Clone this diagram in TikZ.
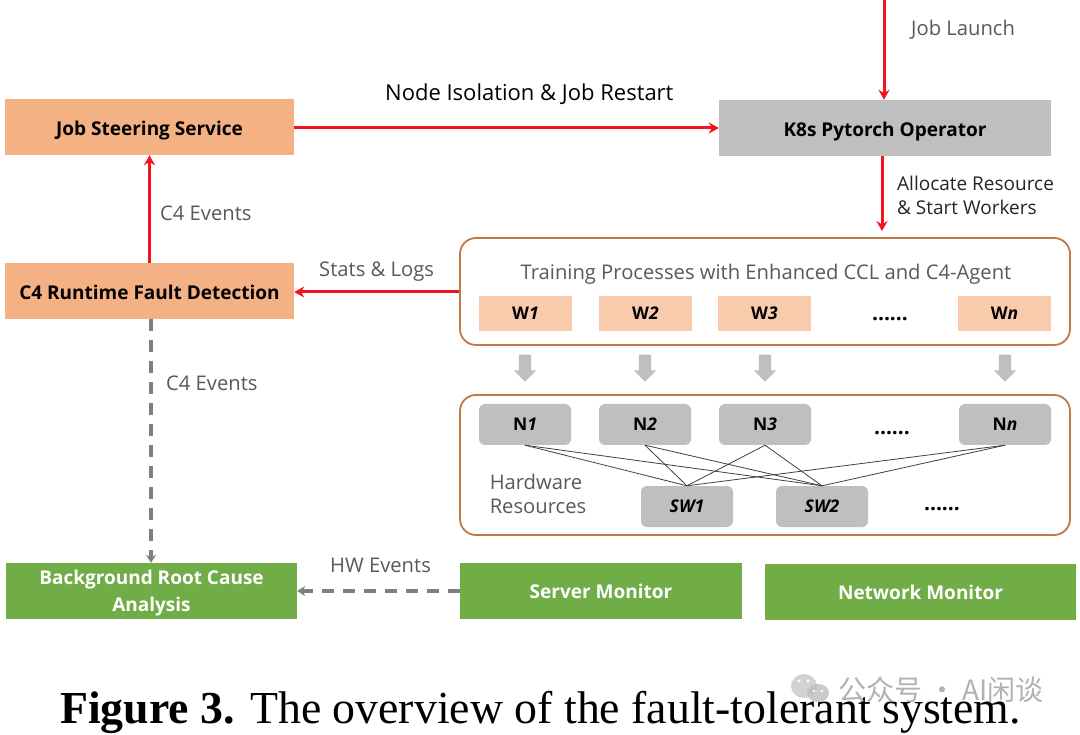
\documentclass[tikz,border=0pt]{standalone}
\usepackage{fontspec}
\setmainfont{Open Sans}
\newfontfamily\capfont{Liberation Serif}
\newfontfamily\cjkfont{Noto Sans CJK SC}
\usetikzlibrary{arrows.meta,shapes.arrows}
\definecolor{orangebox}{HTML}{F4B183}
\definecolor{lightorange}{HTML}{F8CBAD}
\definecolor{graybox}{HTML}{BFBFBF}
\definecolor{greenbox}{HTML}{70AD47}
\definecolor{frameline}{HTML}{C0794A}
\definecolor{redline}{HTML}{F5141E}
\definecolor{dashgray}{HTML}{7F7F7F}
\definecolor{labelgray}{HTML}{595959}
\newcommand{\fs}[1]{\fontsize{#1}{24}\selectfont}
\tikzset{
  x=1pt,y=-1pt,
  box/.style={minimum height=56,inner sep=0,align=center,font=\fs{19}\bfseries},
  oneline/.style={text height=14pt,text depth=0pt},
  lowline/.style={text height=17pt,text depth=0pt},
  orangenode/.style={box,lowline,fill=orangebox,text=black},
  graynode/.style={box,lowline,fill=graybox,text=black},
  greennode/.style={box,fill=greenbox,text=white,minimum height=56},
  frame/.style={draw=frameline,line width=1.8,rounded corners=16,fill=white},
  worker/.style={fill=lightorange,minimum width=93,minimum height=35,inner sep=0,font=\fs{17.5}\bfseries},
  machine/.style={fill=graybox,rounded corners=6,minimum width=92,minimum height=41,inner sep=0,font=\fs{17.5}\bfseries},
  redarrow/.style={draw=redline,line width=3,-{Stealth[length=10,width=11]}},
  grayarrow/.style={draw=dashgray,line width=3.2,dash pattern=on 12 off 9,-{Stealth[length=8,width=10]}},
  label/.style={text=labelgray,font=\fs{20.2},align=left,inner sep=0},
  blackl/.style={text=black,font=\fs{22},align=left,inner sep=0},
  dots/.style={font=\fs{21}\bfseries,inner sep=0},
  blockarrow/.style={single arrow,fill=graybox,rotate=-90,minimum height=27,minimum width=22,single arrow head extend=5,single arrow head indent=0,inner sep=0,outer sep=0},
  link/.style={draw=black!75,line width=0.8},
}
\begin{document}
\begin{tikzpicture}
\useasboundingbox (0,0) rectangle (1080,735);
\fill[white] (0,0) rectangle (1080,735);
% frames
\node[frame,minimum width=610,minimum height=107,inner sep=0] (train) at (765,291.5) {};
\node[frame,minimum width=610,minimum height=140,inner sep=0] (hw) at (765,465) {};
% main boxes
\node[orangenode,minimum width=289] (steer) at (149.5,127) {Job Steering Service};
\node[graynode,minimum width=332] (k8s) at (885,128) {K8s Pytorch Operator};
\node[orangenode,minimum width=289] (detect) at (149.5,291) {C4 Runtime Fault Detection};
\node[greennode,minimum width=291] (root) at (151.5,591) {\rule{0pt}{18pt}Background Root Cause\\[3pt]Analysis};
\node[greennode,oneline,minimum width=282] (server) at (601,591) {Server Monitor};
\node[greennode,oneline,minimum width=311] (network) at (920.5,592) {Network Monitor};
% workers
\node[label] (traintitle) at (766,274) {Training Processes with Enhanced CCL and C4-Agent};
\node[worker] (w1) at (525.5,313.5) {W\textit{1}};
\node[worker] (w2) at (645.5,313.5) {W\textit{2}};
\node[worker] (w3) at (764.5,313.5) {W\textit{3}};
\node[dots] (wd) at (890,319) {......};
\node[worker] (wn) at (1004.5,313.5) {W\textit{n}};
% block arrows
\node[blockarrow] (a1) at (525,365) {\rule{0pt}{12pt}};
\node[blockarrow] (a2) at (645,365) {\rule{0pt}{12pt}};
\node[blockarrow] (a3) at (765,365) {\rule{0pt}{12pt}};
\node[blockarrow] (a4) at (1005,365) {\rule{0pt}{12pt}};
% machines
\node[machine] (n1) at (525,424.5) {N\textit{1}};
\node[machine] (n2) at (645,424.5) {N\textit{2}};
\node[machine] (n3) at (765,424.5) {N\textit{3}};
\node[dots] (nd) at (892,433) {......};
\node[machine] (nn) at (1005,424.5) {N\textit{n}};
\node[machine] (sw1) at (687,506.5) {\textit{SW1}};
\node[machine] (sw2) at (822,506.5) {\textit{SW2}};
\node[dots] (sd) at (942,509) {......};
\node[label] (hwl) at (538,494) {Hardware\\Resources};
% links
\foreach \n in {n1,n2,n3,nn}{
  \draw[link] (\n.south) -- (sw1.north);
  \draw[link] (\n.south) -- (sw2.north);
}
% connectors
\coordinate (top) at (884,0);
\draw[redarrow] (top) -- (top |- k8s.north);
\draw[redarrow] ([yshift=-1]steer.east) -- ([yshift=-1]k8s.west |- steer.east);
\draw[redarrow] (detect.north) -- (steer.south);
\draw[redarrow,shorten >=6] ([xshift=-3]k8s.south) -- ([xshift=-3]k8s.south |- train.north);
\draw[redarrow] ([yshift=-1]train.west |- detect.east) -- ([yshift=-1]detect.east);
\draw[grayarrow] ([xshift=1.5]detect.south) -- ([xshift=-0.5]root.north);
\draw[grayarrow] (server.west) -- (root.east);
% labels
\node[label,anchor=west] (l1) at (911,30) {Job Launch};
\node[blackl,anchor=west] (l2) at (385,94) {Node Isolation \& Job Restart};
\node[label,anchor=west] (l3) at (160,213) {C4 Events};
\node[label,anchor=west] (l4) at (319,272) {Stats \& Logs};
\node[label,anchor=west] (l5) at (166,383) {C4 Events};
\node[label,anchor=west] (l6) at (330,565) {HW Events};
\node[anchor=west,text=black!85,font=\fs{19},align=left,inner sep=0] (l7) at (897,195.5) {Allocate Resource\\\& Start Workers};
% caption
\node[anchor=west,inner sep=0,font=\fs{45.8}\capfont] (cap) at (60,712) {\textbf{Figure 3.} The overview of the fault-tolerant system.};
% watermark
\fill[black!22,opacity=0.8] (804,686) ellipse (13 and 12);
\fill[black!26,opacity=0.8] (818,693) ellipse (11 and 9);
\fill[white] (799,681) circle (1.6) (808,681) circle (1.6) (814,691) circle (1.3) (822,691) circle (1.3);
\node[anchor=west,inner sep=0,text=black!30,font=\fs{28}] (wm) at (838,690) {{\cjkfont 公众号 · AI闲谈}};
\end{tikzpicture}
\end{document}
